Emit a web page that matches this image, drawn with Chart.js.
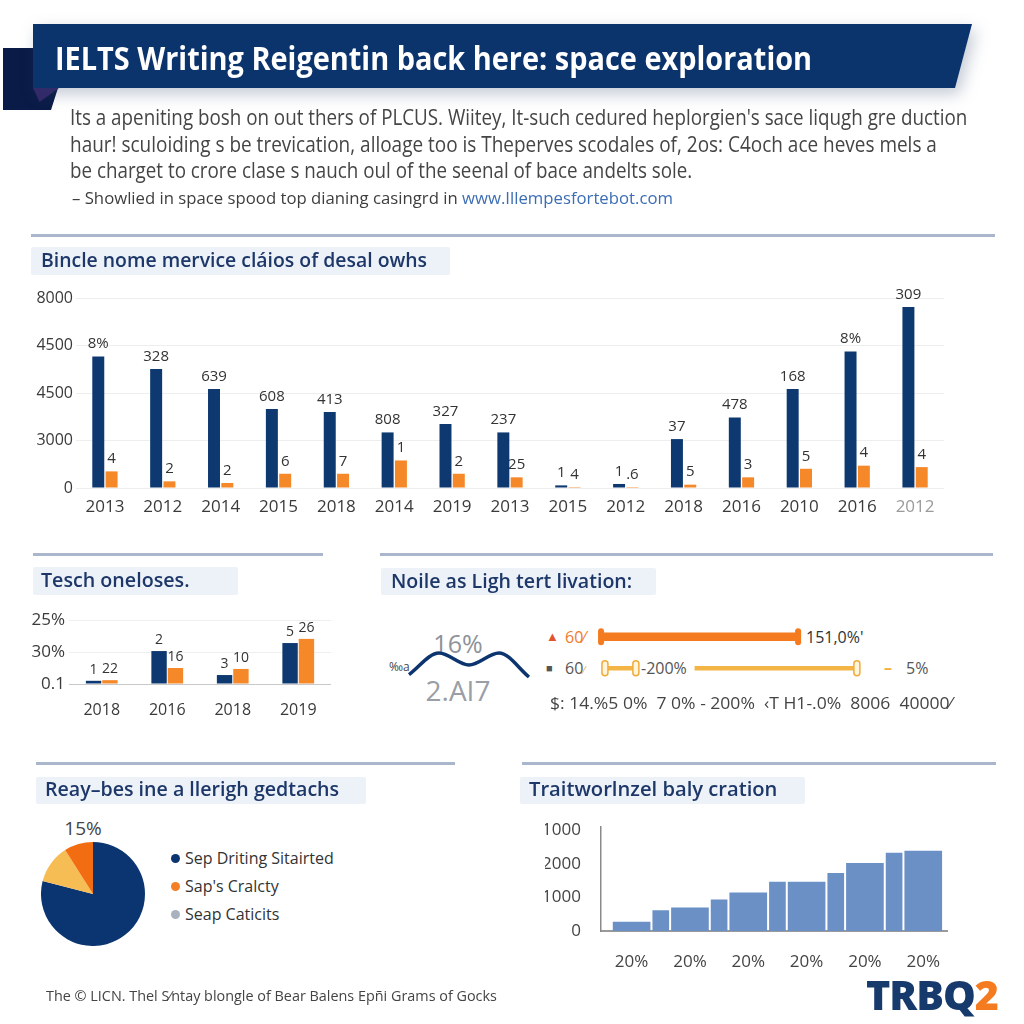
<!DOCTYPE html>
<html>
<head>
<meta charset="utf-8">
<script src="https://cdn.jsdelivr.net/npm/chart.js@4.4.1/dist/chart.umd.min.js"></script>
<style>
  html, body { margin: 0; padding: 0; background: #fff; }
  body { width: 1024px; height: 1024px; position: relative; overflow: hidden; font-family: 'Open Sans', sans-serif; }
  .abs { position: absolute; }
  .t { position: absolute; white-space: nowrap; line-height: 1; transform-origin: left center; }
  .sep { position: absolute; height: 3px; background: #a9b6cb; }
  .box { position: absolute; background: #edf1f8; border-radius: 2px; }
  .head { color: #1c3768; font-weight: 600; font-size: 20px; }
  .dot { position: absolute; width: 9px; height: 9px; border-radius: 50%; }
  canvas { position: absolute; }
</style>
</head>
<body>

<!-- header ribbon -->
<div class="abs" style="left:3px;top:48px;width:56px;height:62px;background:#0a1b47;clip-path:polygon(0 0,30px 0,30px 40px,55px 40px,48px 62px,0 62px);"></div>
<div class="abs" style="left:33px;top:88px;width:26px;height:14px;background:#34286a;clip-path:polygon(0 0,100% 0,25% 100%);"></div>
<div class="abs" style="left:33px;top:24px;width:939px;height:64px;filter:drop-shadow(4px 6px 8px rgba(40,60,100,0.28));">
  <div style="width:100%;height:100%;background:#0c346c;clip-path:polygon(0 0,100% 0,calc(100% - 17px) 100%,0 100%);"></div>
</div>
<div class="t" data-w="757" style="left:55px;top:41px;font-size:33px;font-weight:700;color:#fff;">IELTS Writing Reigentin back here: space exploration</div>

<div class="t" data-w="897" style="left:70px;top:107px;font-size:21px;color:#454545;">Its a apeniting bosh on out thers of PLCUS. Wiitey, It-such cedured heplorgien's sace liqugh gre duction</div>
<div class="t" data-w="867" style="left:70px;top:134px;font-size:21px;color:#454545;">haur! sculoiding s be trevication, alloage too is Theperves scodales of, 2os: C4och ace heves mels a</div>
<div class="t" data-w="622" style="left:70px;top:160px;font-size:21px;color:#454545;">be charget to crore clase s nauch oul of the seenal of bace andelts sole.</div>
<div class="t" data-w="601" style="left:72px;top:189px;font-size:17px;color:#3d3d3d;">– Showlied in space spood top dianing casingrd in <span style="color:#3b6db4;">www.Illempesfortebot.com</span></div>

<!-- section 1 -->
<div class="sep" style="left:31px;top:234px;width:964px;"></div>
<div class="box" style="left:31px;top:247px;width:419px;height:28px;"></div>
<div class="t head" data-w="386" style="left:41px;top:250px;">Bincle nome mervice cláios of desal owhs</div>
<canvas id="mainChart" width="940" height="240" style="left:30px;top:280px;"></canvas>

<!-- section 2 -->
<div class="sep" style="left:33px;top:553px;width:290px;"></div>
<div class="sep" style="left:380px;top:553px;width:613px;"></div>
<div class="box" style="left:33px;top:567px;width:205px;height:28px;"></div>
<div class="t head" data-w="149" style="left:41px;top:571px;font-size:19px;">Tesch oneloses.</div>
<div class="box" style="left:381px;top:568px;width:275px;height:27px;"></div>
<div class="t head" data-w="241" style="left:391px;top:571px;">Noile as Ligh tert livation:</div>
<canvas id="techChart" width="301" height="119" style="left:30px;top:605px;"></canvas>

<div class="t" style="left:458px;top:643px;font-size:25px;color:#8e929a;transform:translate(-50%,-50%);">16%</div>
<div class="t" style="left:458px;top:690px;font-size:28px;color:#9a9ea6;transform:translate(-50%,-50%);">2.AI7</div>
<div class="t" style="left:389px;top:661px;font-size:12px;color:#444;">‰a</div>
<canvas id="waveChart" width="128" height="34" style="left:405px;top:648px;"></canvas>

<div class="t" style="left:546px;top:630px;font-size:13px;color:#e2522d;">▲</div>
<div class="t" style="left:565px;top:629px;font-size:16px;color:#f07a2a;">60⁄</div>
<div class="t" style="left:806px;top:629px;font-size:16px;color:#333;">151,0%'</div>
<div class="t" style="left:546px;top:662px;font-size:11px;color:#555;">■</div>
<div class="t" style="left:565px;top:660px;font-size:16px;color:#555;">60<span style="color:#f0a030;font-size:11px;">⁄</span></div>
<div class="t" style="left:641px;top:660px;font-size:16px;color:#555;">-200%</div>
<div class="t" style="left:884px;top:659px;font-size:16px;font-weight:700;color:#f5b044;">–</div>
<div class="t" style="left:906px;top:660px;font-size:16px;color:#555;">5%</div>
<div class="t" data-w="402" style="left:550px;top:695px;font-size:16px;color:#444;">$: 14.%5 0%&nbsp; 7 0% - 200%&nbsp; ‹T H1-.0%&nbsp; 8006&nbsp; 40000⁄</div>
<canvas id="rangeChart" width="280" height="63" style="left:590px;top:621px;"></canvas>

<!-- section 3 -->
<div class="sep" style="left:36px;top:762px;width:419px;"></div>
<div class="sep" style="left:522px;top:762px;width:474px;"></div>
<div class="box" style="left:36px;top:777px;width:330px;height:27px;"></div>
<div class="t head" data-w="294" style="left:45px;top:779px;">Reay–bes ine a llerigh gedtachs</div>
<div class="box" style="left:520px;top:777px;width:285px;height:27px;"></div>
<div class="t head" data-w="248" style="left:529px;top:779px;">Traitworlnzel baly cration</div>

<div class="t" style="left:83px;top:828px;font-size:19px;color:#444;transform:translate(-50%,-50%);">15%</div>
<canvas id="pieChart" width="104" height="104" style="left:41px;top:842px;"></canvas>
<div id="pieLegend"></div>

<canvas id="histChart" width="408" height="166" style="left:545px;top:805px;"></canvas>

<div class="t" data-w="451" style="left:46px;top:988px;font-size:15px;color:#444;">The © LICN. Thel S⁄ntay blongle of Bear Balens Epñi Grams of Gocks</div>
<div class="t" data-w="132" style="left:866px;top:975px;font-size:40px;font-weight:800;color:#163a6b;letter-spacing:-1px;">TRBQ<span style="color:#f47b20;">2</span></div>

<script>
// main chart
const mainYears = ['2013', '2012', '2014', '2015', '2018', '2014', '2019', '2013', '2015', '2012', '2018', '2016', '2010', '2016', '2012'];
const mainNavy = [5540, 5010, 4170, 3330, 3200, 2340, 2700, 2340, 110, 170, 2060, 2970, 4170, 5750, 7620];
const mainOrange = [700, 280, 210, 600, 600, 1160, 600, 450, 40, 40, 140, 450, 810, 940, 880];
const mainNavyLabels = ['8%', '328', '639', '608', '413', '808', '327', '237', '1', '1', '37', '478', '168', '8%', '309'];
const mainOrangeLabels = ['4', '2', '2', '6', '7', '1', '2', '25', '4', '.6', '5', '3', '5', '4', '4'];
const mainYTicks = ['0', '3000', '4500', '4500', '8000'];

// tech chart
const techYears = ['2018', '2016', '2018', '2019'];
const techNavy = [0.1, 1.03, 0.28, 1.28];
const techOrange = [0.12, 0.5, 0.47, 1.41];
const techNavyLabels = ['1', '2', '3', '5'];
const techOrangeLabels = ['22', '16', '10', '26'];
const techYTicks = ['0.1', '30%', '25%'];

// range rows + wave
const rangeRows = ['a', 'b'];
const rangeSolid = [[0.4, 76.2], null];
const rangeLow = [null, [1.9, 13.8]];
const rangeHigh = [null, [36.5, 98.8]];
const waveValues = [0.1, 1, 0.5, 1, 0];

// pie
const pieLabels = ['Sep Driting Sitairted', "Sap's Cralcty", 'Seap Caticits'];
const pieValues = [79, 12, 9];

// stepped bars
const histHeights = [0.27, 0.61, 0.69, 0.93, 1.14, 1.46, 1.46, 1.72, 2.02, 2.33, 2.39];
const histXLabels = ['20%', '20%', '20%', '20%', '20%', '20%'];
const histYTicks = ['0', '1000', '2000', '1000'];

const NAVY = '#0e3970';
const ORANGE = '#f5892a';

// squeeze text blocks to the width they take in the picture
document.querySelectorAll('[data-w]').forEach(el => {
    const k = (+el.dataset.w) / el.offsetWidth;
    el.style.transform = 'scaleX(' + k + ')';
});

Chart.defaults.animation = false;
Chart.defaults.font.family = "'Open Sans', sans-serif";
Chart.defaults.color = '#3a3a3a';
Chart.defaults.plugins.legend.display = false;
Chart.defaults.plugins.tooltip.enabled = false;

const barLabels = {
    id: 'barLabels',
    afterDatasetsDraw(chart, args, opts) {
        const ctx = chart.ctx;
        ctx.save();
        ctx.font = opts.font;
        ctx.fillStyle = opts.color;
        ctx.textAlign = 'center';
        ctx.textBaseline = 'bottom';
        chart.data.datasets.forEach((ds, i) => {
            if (!ds.valueLabels) return;
            chart.getDatasetMeta(i).data.forEach((bar, j) => {
                const txt = ds.valueLabels[j];
                if (txt) ctx.fillText(txt, bar.x, bar.y - opts.offset);
            });
        });
        ctx.restore();
    }
};

const rangeCaps = {
    id: 'rangeCaps',
    afterDatasetsDraw(chart) {
        const ctx = chart.ctx;
        ctx.save();
        chart.data.datasets.forEach((ds, i) => {
            if (!ds.caps) return;
            chart.getDatasetMeta(i).data.forEach((bar, j) => {
                if (ds.data[j] == null) return;
                const ends = ds.caps === 'both' ? [bar.base, bar.x] : [bar.x];
                ends.forEach(px => {
                    ctx.beginPath();
                    ctx.roundRect(px - ds.capW / 2, bar.y - ds.capH / 2, ds.capW, ds.capH, ds.capW / 2);
                    ctx.fillStyle = ds.capFill;
                    ctx.fill();
                    if (ds.capStroke) {
                        ctx.strokeStyle = ds.capStroke;
                        ctx.lineWidth = 1.5;
                        ctx.stroke();
                    }
                });
            });
        });
        ctx.restore();
    }
};

new Chart(document.getElementById('mainChart'), {
    type: 'bar',
    data: {
        labels: mainYears,
        datasets: [
            { data: mainNavy, backgroundColor: NAVY, valueLabels: mainNavyLabels, categoryPercentage: 0.46, barPercentage: 0.9 },
            { data: mainOrange, backgroundColor: ORANGE, valueLabels: mainOrangeLabels, categoryPercentage: 0.46, barPercentage: 0.9 }
        ]
    },
    options: {
        responsive: false,
        layout: { padding: { top: 18, right: 26, left: 0, bottom: 0 } },
        scales: {
            x: {
                grid: { display: false },
                border: { display: false },
                ticks: {
                    font: { size: 17 }, padding: 1,
                    color: ctx => ctx.index === mainYears.length - 1 ? '#9a9a9a' : '#3a3a3a'
                },
                afterFit: s => { s.height = 32; }
            },
            y: {
                min: 0, max: 8000,
                afterBuildTicks: s => { s.ticks = [0, 2000, 4000, 6000, 8000].map(v => ({ value: v })); },
                grid: { color: '#eeeeee', drawTicks: false },
                border: { display: false },
                ticks: { font: { size: 16 }, padding: 3, callback: (v, i) => mainYTicks[i] },
                afterFit: s => { s.width = 46; }
            }
        },
        plugins: { barLabels: { font: "15px 'Open Sans'", color: '#333', offset: 5 } }
    },
    plugins: [barLabels]
});

new Chart(document.getElementById('techChart'), {
    type: 'bar',
    data: {
        labels: techYears,
        datasets: [
            { data: techNavy, backgroundColor: NAVY, valueLabels: techNavyLabels, categoryPercentage: 0.5, barPercentage: 0.94 },
            { data: techOrange, backgroundColor: ORANGE, valueLabels: techOrangeLabels, categoryPercentage: 0.5, barPercentage: 0.94 }
        ]
    },
    options: {
        responsive: false,
        layout: { padding: { top: 15, right: 0, left: 0, bottom: 0 } },
        scales: {
            x: {
                grid: { display: false },
                border: { display: false },
                ticks: { font: { size: 16 }, padding: 9 },
                afterFit: s => { s.height = 40; }
            },
            y: {
                min: 0, max: 2,
                afterBuildTicks: s => { s.ticks = [0, 1, 2].map(v => ({ value: v })); },
                grid: { color: ctx => ctx.tick.value === 0 ? '#c8c8c8' : '#eeeeee', drawTicks: false },
                border: { display: false },
                ticks: { font: { size: 17 }, padding: 4, callback: (v, i) => techYTicks[i] },
                afterFit: s => { s.width = 39; }
            }
        },
        plugins: { barLabels: { font: "14px 'Open Sans'", color: '#333', offset: 4 } }
    },
    plugins: [barLabels]
});

new Chart(document.getElementById('waveChart'), {
    type: 'line',
    data: {
        labels: waveValues.map((_, i) => i),
        datasets: [{ data: waveValues, borderColor: '#0c3570', borderWidth: 3.5, pointRadius: 0, cubicInterpolationMode: 'monotone', fill: false }]
    },
    options: {
        responsive: false,
        clip: false,
        layout: { padding: { left: 4, right: 4, top: 5, bottom: 5 } },
        scales: { x: { display: false }, y: { display: false, min: 0, max: 1 } }
    }
});

new Chart(document.getElementById('rangeChart'), {
    type: 'bar',
    data: {
        labels: rangeRows,
        datasets: [
            { data: rangeSolid, backgroundColor: '#f47b20', barThickness: 8, grouped: false,
              caps: 'both', capW: 6, capH: 17, capFill: '#f47b20' },
            { data: rangeLow, backgroundColor: '#f4b547', barThickness: 4, grouped: false,
              caps: 'both', capW: 6, capH: 15, capFill: '#fff4dc', capStroke: '#f0ac3a' },
            { data: rangeHigh, backgroundColor: '#f4b547', barThickness: 4, grouped: false,
              caps: 'end', capW: 6, capH: 15, capFill: '#fff4dc', capStroke: '#f0ac3a' }
        ]
    },
    options: {
        responsive: false,
        indexAxis: 'y',
        layout: { padding: { left: 10, right: 10, top: 0, bottom: 0 } },
        scales: { x: { display: false, min: 0, max: 100 }, y: { display: false } }
    },
    plugins: [rangeCaps]
});

const pieColors = ['#0b3570', '#f7bd55', '#f26c12'];
const legendColors = ['#0b3570', '#f47f24', '#a8b1be'];
new Chart(document.getElementById('pieChart'), {
    type: 'pie',
    data: { labels: pieLabels, datasets: [{ data: pieValues, backgroundColor: pieColors, borderWidth: 0 }] },
    options: { responsive: false, layout: { padding: 0 } }
});

const legendBox = document.getElementById('pieLegend');
pieLabels.forEach((name, i) => {
    const y = 858 + i * 28;
    legendBox.insertAdjacentHTML('beforeend',
        '<div class="dot" style="left:171px;top:' + (y - 4.5) + 'px;background:' + legendColors[i] + ';"></div>' +
        '<div class="t" style="left:185px;top:' + (y - 8.5) + 'px;font-size:16px;color:#333;">' + name + '</div>');
});

new Chart(document.getElementById('histChart'), {
    type: 'bar',
    data: {
        datasets: [
            { data: histHeights.map((h, i) => ({ x: i, y: h })).filter(p => p.x % 2 === 0),
              backgroundColor: '#6a90c5', barThickness: 37, grouped: false },
            { data: histHeights.map((h, i) => ({ x: i, y: h })).filter(p => p.x % 2 === 1),
              backgroundColor: '#6a90c5', barThickness: 16, grouped: false }
        ]
    },
    options: {
        responsive: false,
        layout: { padding: { top: 9, right: 0, left: 0, bottom: 0 } },
        scales: {
            x: {
                type: 'linear', min: -1.05, max: 10.84, offset: false,
                afterBuildTicks: s => { s.ticks = [0, 2, 4, 6, 8, 10].map(v => ({ value: v })); },
                grid: { display: false },
                border: { display: true, color: '#999', width: 2 },
                ticks: { font: { size: 17 }, color: '#444', padding: 13, callback: (v, i) => histXLabels[i] },
                afterFit: s => { s.height = 40; }
            },
            y: {
                min: 0, max: 3.1,
                afterBuildTicks: s => { s.ticks = [0, 1, 2, 3].map(v => ({ value: v })); },
                grid: { display: false },
                border: { display: true, color: '#8a8a8a', width: 1.5 },
                ticks: { font: { size: 17 }, color: '#444', padding: 12, callback: (v, i) => histYTicks[i] },
                afterFit: s => { s.width = 56; }
            }
        }
    }
});
</script>
</body>
</html>
